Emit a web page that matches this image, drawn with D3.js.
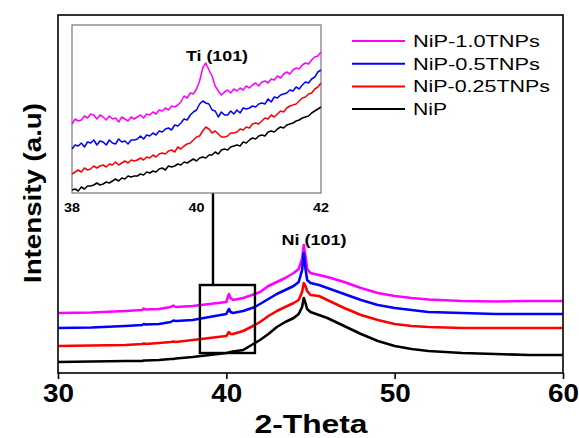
<!DOCTYPE html>
<html>
<head>
<meta charset="utf-8">
<script src="https://cdn.jsdelivr.net/npm/d3@7"></script>
<style>
  body { margin: 0; background: #fff; }
  text { font-family: "Liberation Sans", Arial, sans-serif; }
</style>
</head>
<body>
<div id="chart"></div>
<script>
// Main pattern data (2-Theta vs intensity, arbitrary units)
var theta = [30, 32, 34, 35, 35.1, 35.2, 36, 36.7, 36.85, 37, 38, 39, 40, 40.15, 40.25, 40.4, 41, 41.7, 42, 42.5,
  43, 43.5, 44, 44.3, 44.5, 44.6, 44.7, 44.8, 45, 45.5, 46, 47, 48, 49, 50, 51, 52, 54, 56, 58, 60];
var nip10 = [60, 60.5, 62, 63, 64.5, 63.5, 64, 66, 67.5, 66, 67, 69, 71, 79, 75, 73, 75, 79, 81, 87,
  91, 95, 100, 104, 114, 128, 117, 104, 100, 98, 96, 91, 85, 80, 77, 75, 73.5, 72, 71.5, 72, 72];
var nip05 = [45, 45.5, 47, 48, 49, 48.5, 49, 51, 52.5, 52, 53, 56, 59, 64, 61, 60, 62, 66, 69, 74,
  79, 83, 87, 91, 103, 120, 105, 93, 90, 88, 85, 79, 73, 68, 65, 63, 61, 60, 59, 59, 59];
var nip025 = [27, 27.5, 28, 29, 29.5, 29, 30, 31, 31.5, 31, 33, 35, 37, 41, 39, 39, 42, 48, 51, 57,
  62, 66, 70, 73, 81, 90, 87, 82, 78, 77, 73, 65, 58, 53, 49, 47, 46, 45, 45, 45, 45];
var nip = [11, 11.5, 12, 12, 12.5, 12.5, 13, 14, 14, 14.5, 16, 18, 20, 20.5, 21, 21.5, 23, 30, 33, 39,
  46, 51, 55, 59, 66, 75, 70, 64, 61, 58, 55, 47, 39, 32, 27, 24, 22, 20, 19, 18, 18];

// Inset data, 38 to 42 degrees in 0.05 steps
var insetTheta = d3.range(0, 81).map(i => 38 + i * 0.05);
var inNip10 = [69, 74, 72, 73, 77, 75, 79, 78, 74, 78, 76, 73, 77, 74, 75, 71, 76, 74, 72, 76,
  74, 76, 78, 75, 79, 78, 81, 79, 83, 82, 85, 83, 87, 86, 88, 91, 97, 95, 100, 99,
  104, 112, 125, 130, 123, 117, 107, 102, 98, 101, 103, 100, 104, 102, 105, 103, 107, 105, 108, 110,
  107, 111, 112, 110, 114, 113, 117, 115, 119, 121, 119, 123, 125, 124, 128, 130, 129, 133, 136, 137, 141];
var inNip05 = [44, 48, 47, 50, 46, 51, 50, 53, 48, 52, 51, 48, 53, 50, 49, 54, 51, 52, 49, 53,
  53, 54, 57, 54, 58, 57, 60, 58, 62, 61, 64, 65, 63, 68, 67, 70, 74, 73, 78, 81,
  83, 89, 92, 90, 89, 83, 82, 76, 81, 78, 78, 82, 79, 83, 80, 85, 84, 85, 87, 86,
  89, 90, 89, 94, 91, 96, 95, 98, 99, 100, 103, 102, 106, 104, 108, 111, 110, 114, 116, 121, 123];
var inNip025 = [19, 21, 23, 21, 25, 23, 24, 27, 25, 27, 28, 26, 29, 28, 31, 28, 30, 32, 30, 33,
  32, 33, 35, 33, 36, 35, 38, 36, 39, 40, 39, 42, 43, 41, 46, 44, 47, 49, 50, 53,
  56, 57, 62, 66, 64, 60, 62, 59, 56, 56, 57, 60, 60, 61, 64, 63, 66, 65, 69, 70,
  69, 72, 75, 74, 78, 76, 79, 82, 81, 85, 87, 88, 89, 92, 95, 96, 99, 100, 104, 106, 110];
var inNip = [3, 4, 2, 6, 4, 7, 7, 8, 10, 8, 9, 11, 10, 12, 14, 12, 15, 14, 17, 16,
  17, 17, 19, 18, 21, 20, 22, 21, 24, 25, 23, 27, 26, 27, 29, 28, 31, 30, 32, 34,
  32, 35, 36, 35, 38, 38, 41, 39, 43, 44, 43, 46, 47, 48, 47, 51, 50, 53, 55, 54,
  57, 58, 57, 61, 62, 61, 64, 66, 65, 68, 69, 70, 72, 73, 75, 76, 77, 80, 82, 84, 86];

var seriesNames = ["NiP-1.0TNPs", "NiP-0.5TNPs", "NiP-0.25TNPs", "NiP"];
var seriesColors = ["#ff00ff", "#0000ff", "#ff0000", "#000000"];
var mainValues = [nip10, nip05, nip025, nip];
var insetValues = [inNip10, inNip05, inNip025, inNip];
var xTicks = [30, 40, 50, 60];
var insetTicks = [38, 40, 42];
var zoomBox = { x0: 38.43, x1: 41.7, y0: 20, y1: 88 };

var svgWidth = 579;
var svgHeight = 438;

var svg = d3.select("#chart")
  .append("svg")
  .attr("width", svgWidth)
  .attr("height", svgHeight);

// Main scales
var xScale = d3.scaleLinear().domain([30, 60]).range([58, 563]);
var yScale = d3.scaleLinear().domain([0, 358]).range([373, 15]);

// Inset scales
var xIn = d3.scaleLinear().domain([38, 42]).range([72, 321]);
var yIn = d3.scaleLinear().domain([0, 168]).range([193, 25]);

// Main curves
var mainLine = d3.line()
  .x((d, i) => xScale(theta[i]))
  .y(d => yScale(d));

mainValues.forEach(function(vals, k) {
  svg.append("path")
    .datum(vals)
    .attr("d", mainLine)
    .attr("fill", "none")
    .attr("stroke", seriesColors[k])
    .attr("stroke-width", 2.6)
    .attr("stroke-linejoin", "round");
});

// Main frame
svg.append("rect")
  .attr("x", 58).attr("y", 15)
  .attr("width", 505).attr("height", 358)
  .attr("fill", "none")
  .attr("stroke", "#000")
  .attr("stroke-width", 1.6);

// x axis
var bottomAxis = d3.axisBottom(xScale)
  .tickValues(xTicks)
  .tickSize(6)
  .tickSizeOuter(0)
  .tickFormat(d3.format("d"));

var xAxisG = svg.append("g")
  .attr("transform", "translate(0, 373)")
  .call(bottomAxis);
xAxisG.select(".domain").remove();
xAxisG.selectAll("line").attr("stroke", "#000").attr("stroke-width", 1.6);
xAxisG.selectAll("text")
  .attr("y", 29)
  .attr("dy", null)
  .attr("fill", "#000")
  .style("font-size", "25px")
  .style("font-weight", "bold")
  .attr("textLength", 31)
  .attr("lengthAdjust", "spacingAndGlyphs");

svg.append("text")
  .attr("x", 311).attr("y", 433)
  .attr("text-anchor", "middle")
  .style("font-size", "25px")
  .style("font-weight", "bold")
  .attr("textLength", 113)
  .attr("lengthAdjust", "spacingAndGlyphs")
  .text("2-Theta");

svg.append("text")
  .attr("transform", "translate(41, 193) rotate(-90)")
  .attr("text-anchor", "middle")
  .style("font-size", "23px")
  .style("font-weight", "bold")
  .attr("textLength", 180)
  .attr("lengthAdjust", "spacingAndGlyphs")
  .text("Intensity (a.u)");

svg.append("text")
  .attr("x", 314).attr("y", 245)
  .attr("text-anchor", "middle")
  .style("font-size", "15px")
  .style("font-weight", "bold")
  .attr("textLength", 65)
  .attr("lengthAdjust", "spacingAndGlyphs")
  .text("Ni (101)");

// Zoom box and connector
svg.append("rect")
  .attr("x", xScale(zoomBox.x0))
  .attr("y", yScale(zoomBox.y1))
  .attr("width", xScale(zoomBox.x1) - xScale(zoomBox.x0))
  .attr("height", yScale(zoomBox.y0) - yScale(zoomBox.y1))
  .attr("fill", "none")
  .attr("stroke", "#000")
  .attr("stroke-width", 2.4);

svg.append("line")
  .attr("x1", 213).attr("x2", 213)
  .attr("y1", 193).attr("y2", yScale(zoomBox.y1))
  .attr("stroke", "#000")
  .attr("stroke-width", 2.4);

// Inset
var insetLine = d3.line()
  .x((d, i) => xIn(insetTheta[i]))
  .y(d => yIn(d));

svg.append("rect")
  .attr("x", 72).attr("y", 25)
  .attr("width", 249).attr("height", 168)
  .attr("fill", "#fff")
  .attr("stroke", "#777")
  .attr("stroke-width", 1.2);

insetValues.forEach(function(vals, k) {
  svg.append("path")
    .datum(vals)
    .attr("d", insetLine)
    .attr("fill", "none")
    .attr("stroke", seriesColors[k])
    .attr("stroke-width", 1.5)
    .attr("stroke-linejoin", "round");
});

svg.append("g").selectAll("text")
  .data(insetTicks)
  .enter()
  .append("text")
  .attr("x", d => xIn(d))
  .attr("y", 212)
  .attr("text-anchor", "middle")
  .style("font-size", "13px")
  .style("font-weight", "bold")
  .attr("textLength", 16)
  .attr("lengthAdjust", "spacingAndGlyphs")
  .text(d => d);

svg.append("text")
  .attr("x", 217).attr("y", 61)
  .attr("text-anchor", "middle")
  .style("font-size", "15px")
  .style("font-weight", "bold")
  .attr("textLength", 62)
  .attr("lengthAdjust", "spacingAndGlyphs")
  .text("Ti (101)");

// Legend
var legendWidths = [127, 127, 137, 34];
var legend = svg.append("g");
seriesNames.forEach(function(name, k) {
  var ly = 41 + k * 22.7;
  legend.append("line")
    .attr("x1", 352).attr("x2", 405)
    .attr("y1", ly).attr("y2", ly)
    .attr("stroke", seriesColors[k])
    .attr("stroke-width", 2);
  legend.append("text")
    .attr("x", 413).attr("y", ly + 6)
    .style("font-size", "16.5px")
    .attr("textLength", legendWidths[k])
    .attr("lengthAdjust", "spacingAndGlyphs")
    .text(name);
});
</script>
</body>
</html>
